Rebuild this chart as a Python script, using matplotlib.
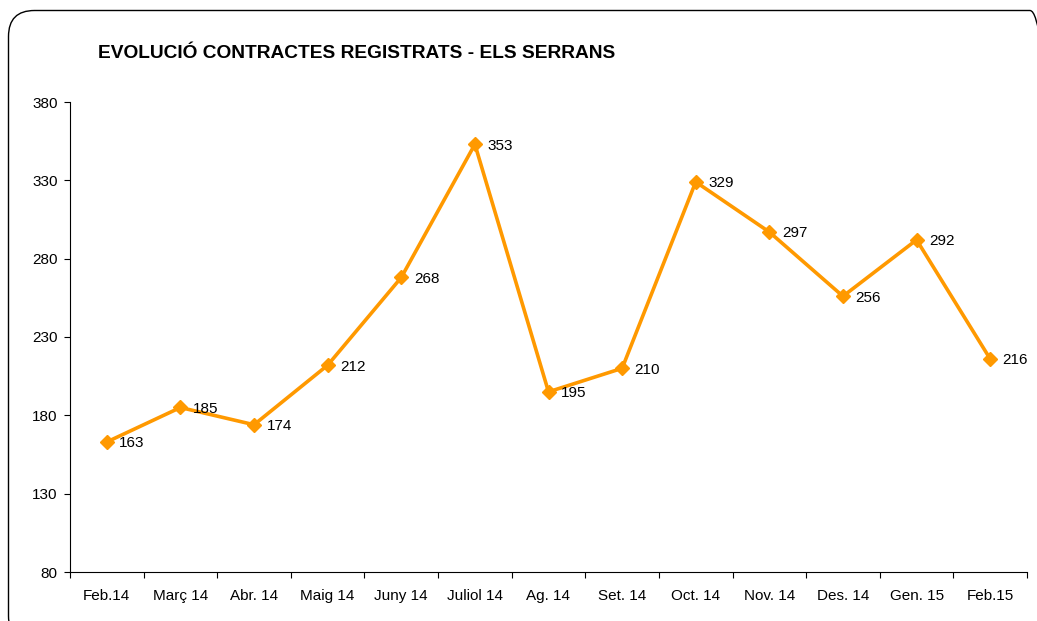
import matplotlib
matplotlib.use("Agg")
import matplotlib.pyplot as plt
from matplotlib.patches import FancyBboxPatch

categories = ["Feb.14", "Març 14", "Abr. 14", "Maig 14", "Juny 14", "Juliol 14", "Ag. 14",
              "Set. 14", "Oct. 14", "Nov. 14", "Des. 14", "Gen. 15", "Feb.15"]
values = [163, 185, 174, 212, 268, 353, 195, 210, 329, 297, 256, 292, 216]
yticks = [80, 130, 180, 230, 280, 330, 380]
title = "EVOLUCIÓ CONTRACTES REGISTRATS - ELS SERRANS"

plt.rcParams['font.family'] = ['Liberation Sans', 'DejaVu Sans']

W, H = 1037, 621
fig = plt.figure(figsize=(W / 100, H / 100), dpi=100)
# rounded frame in pixel units, extending beyond the right and bottom edges
x0, y0, x1, y1 = 8.5, 10.5, 1056, 642
frame = FancyBboxPatch((x0 / W, 1 - y1 / H), (x1 - x0) / W, (y1 - y0) / H,
                       boxstyle="round,pad=0,rounding_size=%f" % (26 / W),
                       transform=fig.transFigure, fill=False, edgecolor="black", linewidth=1.0,
                       mutation_aspect=W / H)
fig.patches.append(frame)

ax = fig.add_axes([70 / W, 1 - 572 / H, (1027 - 70) / W, (572 - 102) / H])
x = list(range(len(categories)))
ax.plot(x, values, color="#FF9900", linewidth=2.6, marker="D", markersize=7.5, zorder=3)
for xi, v in zip(x, values):
    ax.annotate(str(v), (xi, v), xytext=(9, -1), textcoords="offset points",
                ha="left", va="center", fontsize=11, color="black")

ax.set_xlim(-0.5, len(categories) - 0.5)
ax.set_ylim(80, 380)
ax.set_yticks(yticks)
ax.set_yticklabels([str(t) for t in yticks], fontsize=11)
ax.set_xticks(x)
ax.set_xticklabels(categories, fontsize=11)
ax.set_xticks([i - 0.5 for i in range(len(categories) + 1)], minor=True)
ax.tick_params(axis="x", which="major", length=0, pad=12)
ax.tick_params(axis="x", which="minor", length=4, direction="out", width=0.8)
ax.tick_params(axis="y", length=4, direction="out", width=0.8, pad=5)
for s in ["top", "right"]:
    ax.spines[s].set_visible(False)
for s in ["left", "bottom"]:
    ax.spines[s].set_linewidth(0.8)

fig.text(98 / W, 1 - 53 / H, title, fontsize=13.8, fontweight="bold", ha="left", va="center")

fig.savefig("out.png", dpi=100)
